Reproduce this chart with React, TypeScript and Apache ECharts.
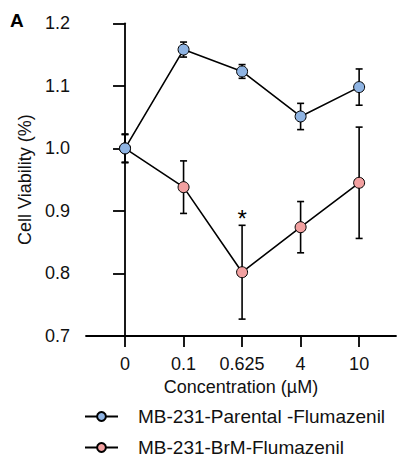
import React, { useEffect, useRef } from "react";
import * as echarts from "echarts";

const categories = ["0", "0.1", "0.625", "4", "10"];
const parentalMean = [1.0, 1.158, 1.123, 1.051, 1.098];
const parentalErr = [0.023, 0.012, 0.011, 0.021, 0.029];
const brmMean = [1.0, 0.938, 0.802, 0.874, 0.945];
const brmErr = [0.022, 0.042, 0.075, 0.041, 0.089];
const brmSignificance = ["", "", "*", "", ""];
const yTicks = [0.7, 0.8, 0.9, 1.0, 1.1, 1.2];

const parentalName = "MB-231-Parental -Flumazenil";
const brmName = "MB-231-BrM-Flumazenil";
const blue = "#8fb4e3";
const pink = "#f2a0a0";
const FONT = "Liberation Sans, Arial, sans-serif";
const FS = 18;

function errSeries(mean: number[], err: number[], sig: string[] | null, z: number) {
  return {
    type: "custom",
    z,
    silent: true,
    data: mean.map((m, i) => [i, m, err[i]]),
    renderItem: (params: any, api: any) => {
      const x = api.value(0);
      const y = api.value(1);
      const e = api.value(2);
      const top = api.coord([x, y + e]);
      const bot = api.coord([x, y - e]);
      const hw = 3.5;
      const st = { stroke: "#000", lineWidth: 1.6 };
      const children: any[] = [
        { type: "line", shape: { x1: top[0], y1: top[1], x2: bot[0], y2: bot[1] }, style: st },
        { type: "line", shape: { x1: top[0] - hw, y1: top[1], x2: top[0] + hw, y2: top[1] }, style: st },
        { type: "line", shape: { x1: bot[0] - hw, y1: bot[1], x2: bot[0] + hw, y2: bot[1] }, style: st },
      ];
      const s = sig ? sig[params.dataIndex] : "";
      if (s) {
        children.push({
          type: "text",
          style: {
            text: s,
            x: top[0],
            y: top[1] - 7,
            align: "center",
            verticalAlign: "middle",
            font: `24px ${FONT}`,
            fill: "#000",
          },
        });
      }
      return { type: "group", children };
    },
  };
}

const legendCommon = {
  orient: "vertical",
  left: 84,
  padding: 0,
  itemWidth: 33,
  itemHeight: 11,
  textStyle: { fontSize: 19, color: "#111", fontFamily: FONT, padding: [0, 0, 0, 15] },
};

export default function App() {
  const ref = useRef<HTMLDivElement>(null);
  useEffect(() => {
    if (!ref.current) return;
    const chart = echarts.init(ref.current, undefined, { renderer: "svg" });
    chart.setOption({
      animation: false,
      backgroundColor: "#fff",
      textStyle: { fontFamily: FONT },
      graphic: [
        {
          type: "text",
          left: 10,
          top: 11,
          style: { text: "A", font: `bold 19px ${FONT}`, fill: "#000" },
        },
      ],
      grid: { left: 86, top: 23.3, right: 1, bottom: 126, containLabel: false },
      legend: [
        { ...legendCommon, top: 407, data: [parentalName] },
        { ...legendCommon, top: 438, data: [brmName] },
      ],
      xAxis: {
        type: "value",
        min: -0.667,
        max: 4.63,
        splitLine: { show: false },
        axisLine: { lineStyle: { color: "#000", width: 1.8 } },
        axisTick: { customValues: [0, 1, 2, 3, 4], length: 11, lineStyle: { color: "#000", width: 1.8 } },
        axisLabel: {
          customValues: [0, 1, 2, 3, 4],
          formatter: (v: number) => categories[Math.round(v)],
          fontSize: FS,
          color: "#111",
          margin: 19,
        },
        name: "Concentration (µM)",
        nameLocation: "middle",
        nameGap: 42,
        nameTextStyle: { fontSize: FS, color: "#111" },
      },
      yAxis: {
        type: "value",
        min: 0.7,
        max: 1.2,
        interval: 0.1,
        splitLine: { show: false },
        axisLine: { show: true, lineStyle: { color: "#000", width: 1.8 } },
        axisTick: { show: true, length: 12, lineStyle: { color: "#000", width: 1.8 } },
        axisLabel: {
          formatter: (v: number) => (yTicks.some((t) => Math.abs(t - v) < 1e-6) ? v.toFixed(1) : ""),
          fontSize: FS,
          color: "#111",
          margin: 16,
        },
        name: "Cell Viability (%)",
        nameLocation: "middle",
        nameGap: 48,
        nameTextStyle: { fontSize: FS, color: "#111" },
      },
      series: [
        errSeries(brmMean, brmErr, brmSignificance, 1),
        {
          name: brmName,
          type: "line",
          z: 2,
          data: brmMean.map((m, i) => [i, m]),
          symbol: "circle",
          symbolSize: 11,
          lineStyle: { color: "#000", width: 1.6 },
          itemStyle: { color: pink, borderColor: "#000", borderWidth: 1 },
        },
        errSeries(parentalMean, parentalErr, null, 3),
        {
          name: parentalName,
          type: "line",
          z: 4,
          data: parentalMean.map((m, i) => [i, m]),
          symbol: "circle",
          symbolSize: 11,
          lineStyle: { color: "#000", width: 1.6 },
          itemStyle: { color: blue, borderColor: "#000", borderWidth: 1 },
        },
      ],
    });
    return () => chart.dispose();
  }, []);
  return <div ref={ref} style={{ width: 397, height: 462, position: "fixed", left: 0, top: 0 }} />;
}
